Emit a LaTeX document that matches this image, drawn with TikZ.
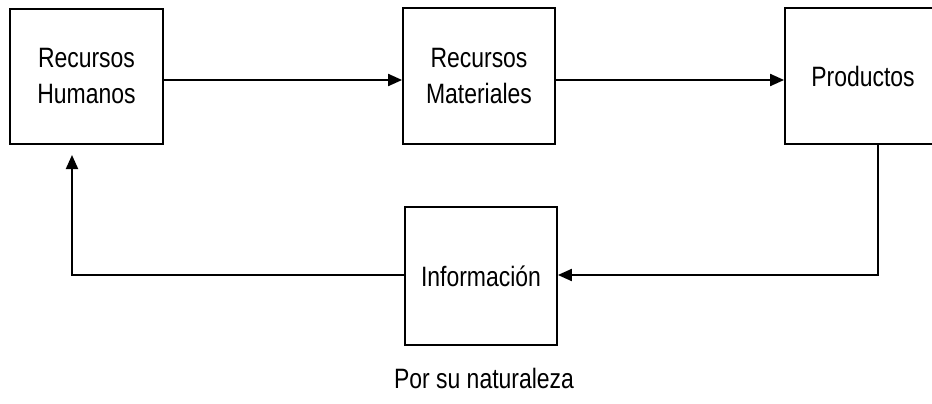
\documentclass[tikz,border=0pt]{standalone}
\usepackage{fontspec}
\setmainfont[FakeStretch=0.82]{Liberation Sans}
\usetikzlibrary{arrows.meta}
\begin{document}
\begin{tikzpicture}[x=1pt,y=-1pt,
  box/.style={draw, line width=1.8pt, inner sep=0pt, align=center,
    font=\fontsize{28}{36}\selectfont},
  conn/.style={line width=2pt},
  arr/.style={conn, -{Triangle[length=14pt,width=12pt]}}]
\useasboundingbox (0,0) rectangle (932,404);
\node[box, minimum width=153pt, minimum height=135pt] (A) at (86.5,76.5) {Recursos\\Humanos};
\node[box, minimum width=152pt, minimum height=136pt] (B) at (479,76) {Recursos\\Materiales};
\node[box, minimum width=156pt, minimum height=136pt] (C) at (863,76) {Productos};
\node[box, minimum width=152pt, minimum height=138pt] (D) at (481,276) {Información};
\node[font=\fontsize{28}{30}\selectfont] (T) at (484,378) {Por su naturaleza};
\coordinate (c1) at (878,275);
\coordinate (c2) at (72,275);
\coordinate (c3) at (72,155);
\draw[arr] (A.east |- 0,80) -- (B.west |- 0,80);
\draw[arr] (B.east |- 0,80) -- (C.west |- 0,80);
\draw[arr] (C.south -| c1) -- (c1) -- (D.east |- c1);
\draw[arr] (D.west |- c2) -- (c2) -- (c3);
\end{tikzpicture}
\end{document}
